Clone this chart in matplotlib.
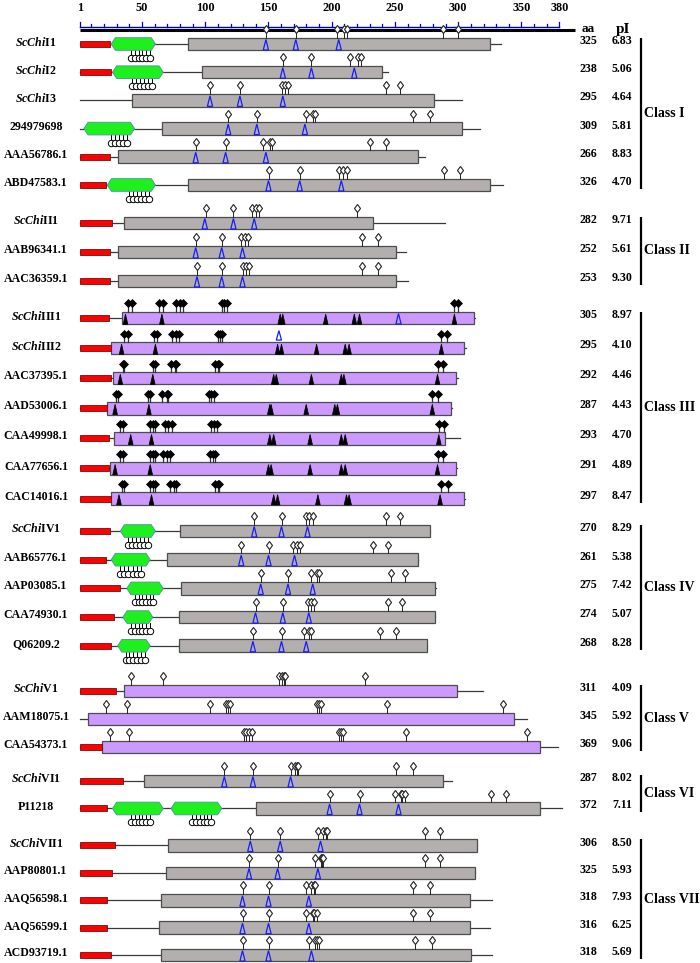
import matplotlib
matplotlib.use('Agg')
import matplotlib.pyplot as plt
from matplotlib.patches import Polygon, Rectangle

# ---- data ----
names = ['ScChiI1', 'ScChiI2', 'ScChiI3', '294979698', 'AAA56786.1', 'ABD47583.1',
         'ScChiII1', 'AAB96341.1', 'AAC36359.1',
         'ScChiIII1', 'ScChiIII2', 'AAC37395.1', 'AAD53006.1', 'CAA49998.1', 'CAA77656.1', 'CAC14016.1',
         'ScChiIV1', 'AAB65776.1', 'AAP03085.1', 'CAA74930.1', 'Q06209.2',
         'ScChiV1', 'AAM18075.1', 'CAA54373.1',
         'ScChiVI1', 'P11218',
         'ScChiVII1', 'AAP80801.1', 'AAQ56598.1', 'AAQ56599.1', 'ACD93719.1']
group = [0]*6 + [1]*3 + [2]*7 + [3]*5 + [4]*3 + [5]*2 + [6]*5
classes = ['Class I', 'Class II', 'Class III', 'Class IV', 'Class V', 'Class VI', 'Class VII']

seq_len = [325, 238, 295, 309, 266, 326, 282, 252, 253, 305, 295, 292, 287, 293, 291, 297,
           270, 261, 275, 274, 268, 311, 345, 369, 287, 372, 306, 325, 318, 316, 318]
pI = ['6.83', '5.06', '4.64', '5.81', '8.83', '4.70', '9.71', '5.61', '9.30',
      '8.97', '4.10', '4.46', '4.43', '4.70', '4.89', '8.47',
      '8.29', '5.38', '7.42', '5.07', '8.28', '4.09', '5.92', '9.06', '8.02', '7.11',
      '8.50', '5.93', '7.93', '6.25', '5.69']

signal_end = [24, 25, None, None, 24, 21, 26, 24, 24, 23, 25, 25, 22, 23, 23, 25,
              24, 21, 32, 27, 25, 29, None, 18, 34, 22, 28, 26, 22, 22, 25]
cat_start = [84, 95, 41, 64, 30, 84, 35, 30, 30, 33, 25, 26, 22, 27, 24, 25,
             78, 68, 79, 77, 77, 35, 7, 18, 50, 136, 69, 67, 63, 62, 63]
cat_end = [316, 233, 273, 295, 261, 316, 226, 244, 244, 304, 296, 290, 286, 282, 290, 296,
           270, 261, 274, 274, 268, 291, 335, 355, 280, 355, 306, 305, 301, 301, 302]
line_end = {'ScChiIII2': 298, 'AAP80801.1': 305}

cbd = {'ScChiI1': [(25, 59)], 'ScChiI2': [(26, 65)], '294979698': [(4, 43)],
       'ABD47583.1': [(22, 59)], 'ScChiIV1': [(32, 59)], 'AAB65776.1': [(25, 55)],
       'AAP03085.1': [(37, 65)], 'CAA74930.1': [(34, 57)], 'Q06209.2': [(30, 55)],
       'P11218': [(26, 65), (71, 110)]}
cbd_sites = {'ScChiI1': [[40, 43, 46, 49, 52, 55]], 'ScChiI2': [[41, 44, 47, 50, 53, 56]],
             '294979698': [[25, 28, 31, 34, 37]], 'ABD47583.1': [[39, 42, 45, 48, 51, 54]],
             'ScChiIV1': [[38, 41, 44, 47, 50, 53]], 'AAB65776.1': [[32, 35, 38, 42, 45, 48]],
             'AAP03085.1': [[43, 46, 49, 52, 55, 57]], 'CAA74930.1': [[40, 43, 46, 49, 52, 55]],
             'Q06209.2': [[36, 39, 42, 45, 48, 51]],
             'P11218': [[40, 43, 46, 49, 52, 55], [87, 90, 93, 96, 99, 102]]}

open_dia = [[144, 167, 199, 204, 206, 280, 292], [157, 179, 209, 215, 217],
            [101, 124, 156, 159, 161, 236, 247], [115, 137, 175, 180, 182, 257, 270],
            [90, 113, 142, 147, 149, 224, 236], [146, 170, 200, 203, 206, 281, 293],
            [98, 119, 133, 136, 139, 214], [90, 110, 125, 128, 130, 218, 230],
            [91, 110, 126, 129, 131, 218, 230],
            [], [], [], [], [], [], [],
            [135, 156, 175, 177, 180, 236, 247], [125, 146, 165, 168, 170, 226, 238],
            [140, 161, 179, 183, 185, 240, 251], [136, 157, 176, 179, 181, 238, 249],
            [134, 156, 173, 177, 179, 232, 244],
            [40, 65, 154, 156, 158, 159, 220],
            [21, 37, 101, 113, 115, 116, 183, 185, 186, 237, 326],
            [24, 39, 127, 129, 131, 133, 200, 202, 203, 252, 345],
            [112, 134, 163, 166, 168, 169, 244, 257], [193, 216, 243, 248, 249, 251, 317, 329],
            [132, 155, 184, 188, 190, 191, 266, 278], [131, 153, 182, 186, 187, 188, 266, 278],
            [126, 146, 175, 179, 181, 182, 257, 270], [126, 146, 175, 180, 181, 183, 257, 270],
            [126, 146, 177, 182, 183, 185, 259, 272]]
blue_tri = [[144, 167, 200], [157, 179, 212], [101, 124, 157], [115, 137, 174],
            [90, 113, 144], [146, 170, 202], [97, 119, 135], [90, 110, 126], [91, 110, 126],
            [246], [], [], [], [], [], [],
            [135, 156, 176], [125, 146, 166], [140, 161, 180], [136, 157, 177], [134, 156, 175],
            [], [], [],
            [112, 134, 163], [193, 216, 246],
            [132, 155, 186], [131, 153, 184], [126, 146, 177], [126, 146, 177], [126, 146, 179]]
blue_above = {'ScChiIII2': [154]}

black_dia = {'ScChiIII1': [38, 41, 62, 65, 75, 78, 80, 110, 112, 114, 289, 292],
             'ScChiIII2': [35, 38, 58, 60, 72, 75, 77, 107, 109, 110, 279, 283],
             'AAC37395.1': [34, 35, 57, 59, 71, 74, 75, 105, 107, 108, 276, 280],
             'AAD53006.1': [29, 30, 53, 55, 64, 68, 69, 100, 102, 104, 272, 276],
             'CAA49998.1': [32, 34, 55, 57, 59, 66, 69, 72, 102, 104, 106, 277, 281],
             'CAA77656.1': [32, 34, 55, 57, 59, 65, 68, 70, 101, 103, 105, 276, 280],
             'CAC14016.1': [33, 35, 55, 57, 59, 70, 73, 75, 105, 107, 108, 279, 284]}
black_tri = {'ScChiIII1': [36, 64, 155, 157, 190, 212, 216, 289],
             'ScChiIII2': [33, 59, 153, 156, 183, 205, 208, 279],
             'AAC37395.1': [32, 57, 150, 152, 179, 202, 204, 276],
             'AAD53006.1': [28, 54, 147, 148, 175, 197, 199, 272],
             'CAA49998.1': [40, 56, 147, 150, 178, 202, 205, 277],
             'CAA77656.1': [28, 55, 146, 148, 178, 202, 205, 276],
             'CAC14016.1': [31, 56, 150, 153, 184, 206, 208, 278]}

ruler_major = [1, 50, 100, 150, 200, 250, 300, 350, 380]
ruler_minor = [v for v in range(10, 380, 10) if v % 50 != 0]

# ---- layout ----
W, H = 700, 963
PX = 1.3   # pixels per residue
X0 = 80    # pixel of residue 1
RS = 1.265 / 1.3  # ruler is drawn a little tighter than the bars

group_top = [44, 223, 318, 531, 691, 781, 845.5]
group_step = [28.2, 29, 30.1, 28.7, 28, 27.5, 27.4]

plt.rcParams['font.family'] = ['Liberation Serif', 'DejaVu Serif']
plt.rcParams['font.weight'] = 'bold'
plt.rcParams['mathtext.fontset'] = 'custom'
plt.rcParams['mathtext.it'] = 'Liberation Serif:italic:bold'
plt.rcParams['mathtext.rm'] = 'Liberation Serif:bold'

fig = plt.figure(figsize=(W / 100, H / 100), dpi=100)
ax = fig.add_axes([0, 0, 1, 1])
ax.set_xlim(1 - X0 / PX, 1 + (W - X0) / PX)
ax.set_ylim(H, 0)
ax.axis('off')


def px(x):
    return 1 + (x - X0) / PX


def rx(v):
    return 1 + (v - 1) * RS


GRAY = '#b3afae'
PURPLE = '#cc99ff'
EDGE = '#4d4d4d'
BH = 6.3  # half height of domain boxes

# ruler
ax.plot([rx(1), rx(380)], [27, 27], color='#0000c8', lw=1)
for v in ruler_minor:
    ax.plot([rx(v), rx(v)], [27, 24], color='#0000c8', lw=0.9)
for v in ruler_major:
    ax.plot([rx(v), rx(v)], [27, 22.5], color='#0000c8', lw=0.9)
    ax.text(rx(v), 8, str(v), ha='center', va='center', fontsize=8.8)
ax.plot([px(80), px(575)], [30, 30], color='black', lw=2.2, solid_capstyle='butt')
ax.text(px(588), 29, 'aa', ha='center', va='center', fontsize=9.5)
ax.text(px(623), 29, 'pI', ha='center', va='center', fontsize=11)

ys = []
count = [0] * len(classes)
for g in group:
    ys.append(group_top[g] + count[g] * group_step[g])
    count[g] += 1

for i, name in enumerate(names):
    y = ys[i]
    g = group[i]
    ax.plot([1, line_end.get(name, seq_len[i])], [y, y], color='#3a3a3a', lw=0.9, zorder=1)

    if signal_end[i] is not None:
        ax.add_patch(Rectangle((1, y - 3), signal_end[i] - 1, 6, fc='#ff0000',
                               ec='#6e1010', lw=0.6, zorder=3))

    for k, (s, e) in enumerate(cbd.get(name, [])):
        d = 3.2
        ax.add_patch(Polygon([(s, y), (s + d, y - BH), (e - d, y - BH), (e, y),
                              (e - d, y + BH), (s + d, y + BH)], closed=True,
                             fc='#1ef01e', ec='#4f9a9a', lw=0.7, zorder=3))
        for x in cbd_sites[name][k]:
            ax.plot([x, x], [y + BH, y + 11], color='black', lw=0.7, zorder=2)
            ax.plot(x, y + 14, marker='o', ms=4.6, mfc='white', mec='black', mew=0.7, zorder=3)

    fc = PURPLE if g in (2, 4) else GRAY
    ax.add_patch(Rectangle((cat_start[i], y - BH), cat_end[i] - cat_start[i], 2 * BH,
                           fc=fc, ec=EDGE, lw=0.9, zorder=2))

    for x in open_dia[i]:
        ax.plot([x, x], [y - BH, y - 11], color='#222222', lw=0.7, zorder=2)
        ax.plot(x, y - 14.9, marker='d', ms=4.5, mfc='white', mec='#222222', mew=0.8, zorder=3)

    for x in black_dia.get(name, []):
        ax.plot([x, x], [y - BH, y - 12], color='#333333', lw=0.9, zorder=2)
        ax.plot(x, y - 14.5, marker='D', ms=3.8, mfc='black', mec='black', mew=0.5, zorder=3)

    for x in black_tri.get(name, []):
        ax.add_patch(Polygon([(x - 1.8, y + BH), (x + 1.8, y + BH), (x, y - 4)], closed=True,
                             fc='black', ec='black', lw=0.5, zorder=4))

    for x in blue_tri[i]:
        ax.add_patch(Polygon([(x - 2, y + BH - 0.3), (x + 2, y + BH - 0.3), (x, y - 4.5)],
                             closed=True, fc='none', ec='#1a1aff', lw=0.9, zorder=4))
    for x in blue_above.get(name, []):
        ax.add_patch(Polygon([(x - 2, y - 8), (x + 2, y - 8), (x, y - 17.5)],
                             closed=True, fc='none', ec='#1a1aff', lw=0.9, zorder=4))

    label = name
    if name.startswith('ScChi'):
        label = r'$\mathit{ScChi}$' + name[5:]
    ax.text(px(36), y - 2, label, ha='center', va='center', fontsize=8.6)
    ax.text(px(588), y - 3, str(seq_len[i]), ha='center', va='center', fontsize=8.6)
    ax.text(px(622), y - 3, pI[i], ha='center', va='center', fontsize=8.6)

# class brackets
for g, cname in enumerate(classes):
    gy = [ys[i] for i in range(len(names)) if group[i] == g]
    top, bot = gy[0] - 6, gy[-1] + 4
    ax.plot([px(641), px(641)], [top, bot], color='black', lw=1.6, solid_capstyle='butt')
    ax.text(px(644), (top + bot) / 2, cname, ha='left', va='center', fontsize=10)

plt.savefig('out.png', dpi=100)
